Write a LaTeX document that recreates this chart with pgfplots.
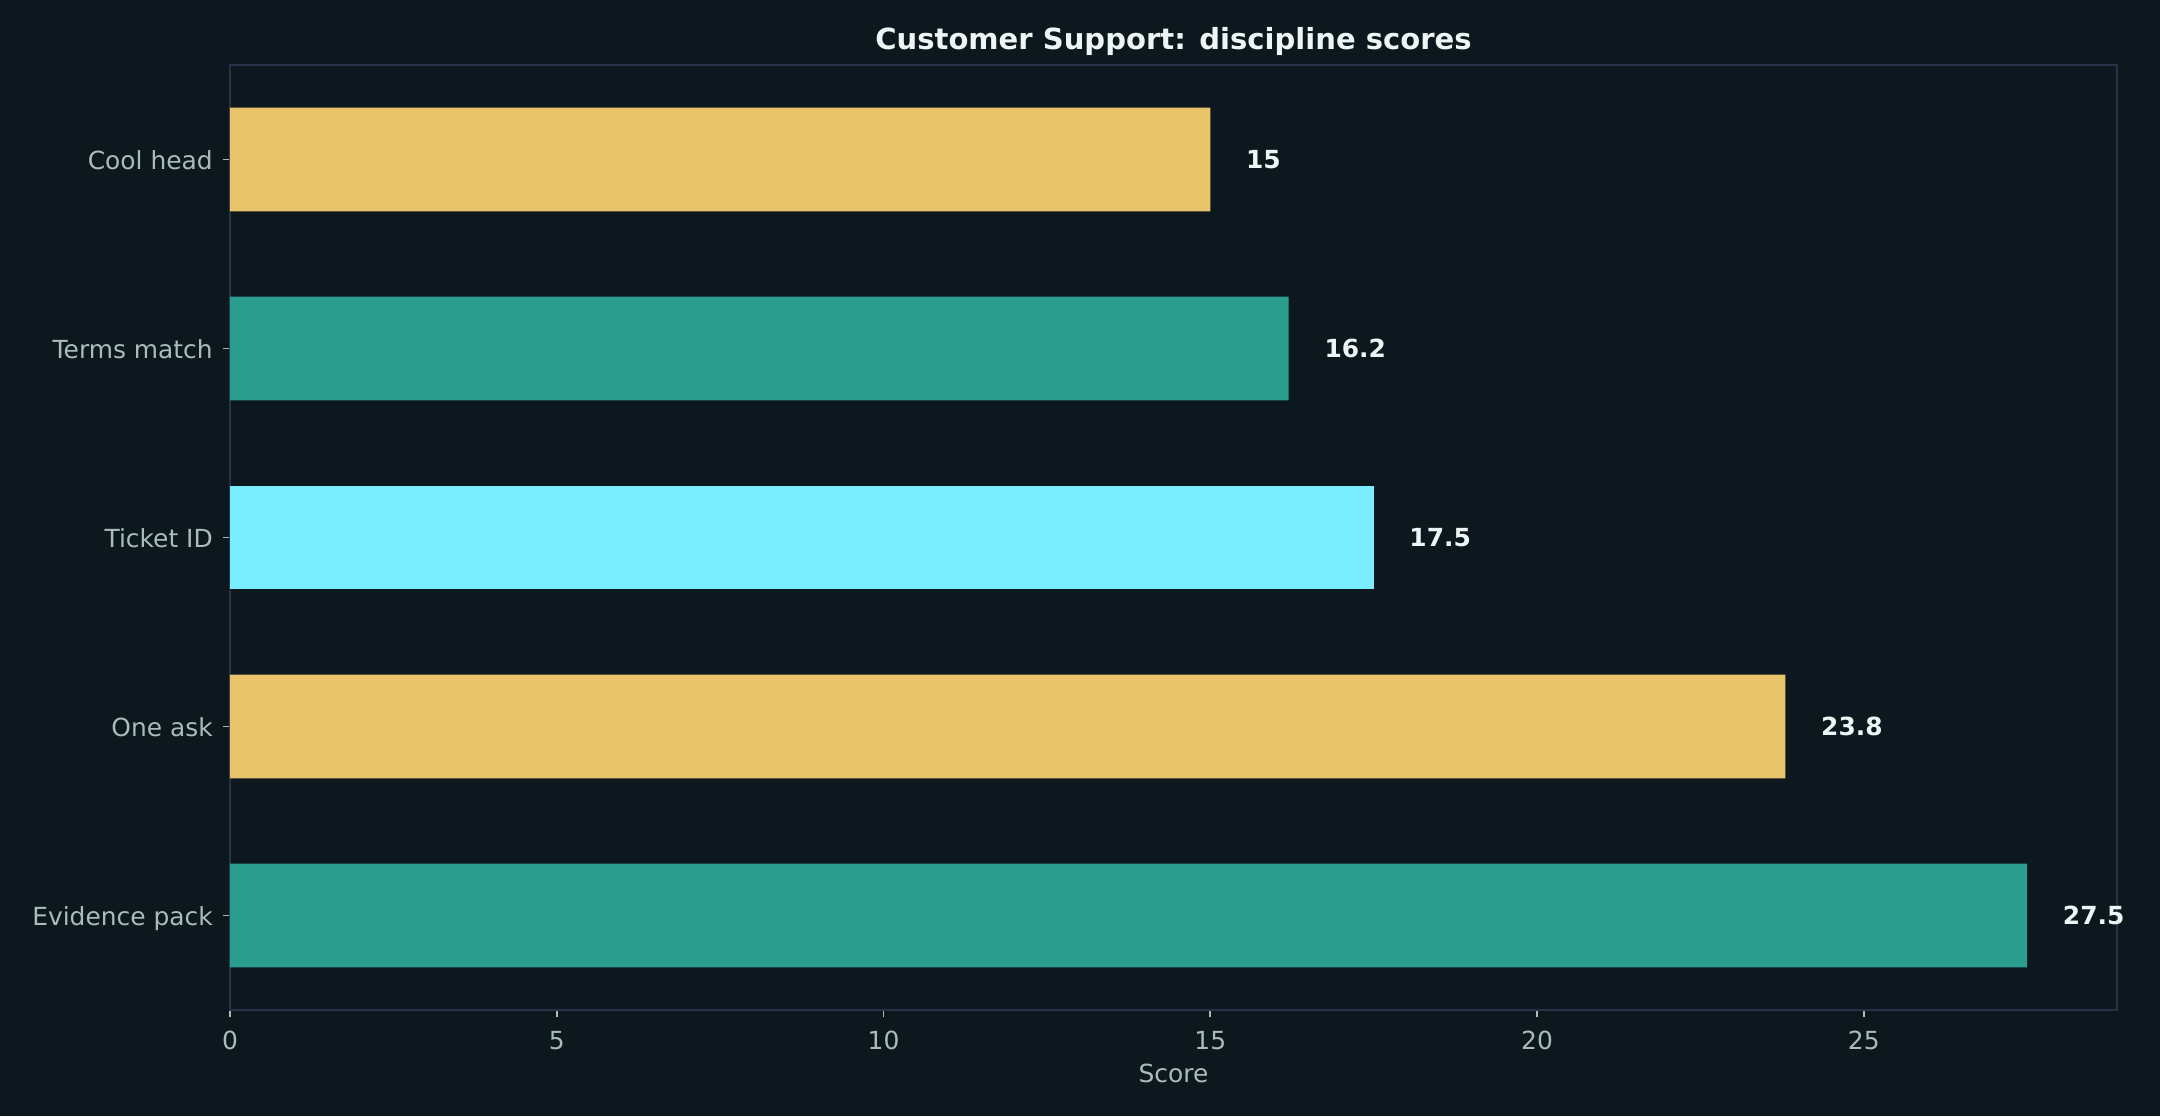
\documentclass[border=0pt]{standalone}
\usepackage{pgfplots}
\pgfplotsset{compat=1.18}
\usepackage{fontspec}
\setmainfont{DejaVu Sans}
\usetikzlibrary{backgrounds}

\definecolor{bg}{HTML}{0C181D}
\definecolor{frame}{HTML}{2A3048}
\definecolor{ticktext}{HTML}{A9BCBC}
\definecolor{titletext}{HTML}{EEF5F5}
\definecolor{gold}{HTML}{E9C46A}
\definecolor{teal}{HTML}{2A9D8F}
\definecolor{aqua}{HTML}{7AEEFF}

\begin{document}
\begin{tikzpicture}
\begin{axis}[
    scale only axis,
    width=905.76bp, height=453.6bp,
    xbar, bar shift=0pt, bar width=0.55,
    xmin=0, xmax=28.875,
    ymin=-0.5, ymax=4.5,
    xtick={0,5,10,15,20,25},
    ytick={0,1,2,3,4},
    yticklabels={Evidence pack, One ask, Ticket ID, Terms match, Cool head},
    axis line style={frame, line width=0.8pt},
    tick style={ticktext, line width=0.8pt},
    major tick length=3.5pt,
    tick align=outside,
    xtick pos=bottom, ytick pos=left,
    /pgf/number format/assume math mode=true,
    tick label style={font=\fontsize{12}{14}\selectfont, text=ticktext},
    xticklabel style={anchor=base, inner sep=0pt, yshift=-15.7bp},
    yticklabel style={anchor=mid east, inner sep=0pt, xshift=-4.6bp, yshift=-2bp},
    every axis title shift=0pt,
    title={Customer Support: discipline scores},
    title style={at={(0.5,1)}, anchor=base, inner sep=0pt, yshift=7.4bp,
        font=\bfseries\fontsize{14}{16}\selectfont, text=titletext},
    xlabel={Score},
    xlabel style={at={(0.5,0)}, anchor=base, inner sep=0pt, yshift=-34.8bp,
        font=\fontsize{12}{14}\selectfont, text=ticktext},
    nodes near coords,
    nodes near coords style={font=\bfseries\fontsize{12}{14}\selectfont,
        text=titletext, anchor=west, inner sep=0pt, xshift=17bp},
]
\addplot[fill=gold, draw=none] coordinates {(15,4) (23.8,1)};
\addplot[fill=teal, draw=none] coordinates {(16.2,3) (27.5,0)};
\addplot[fill=aqua, draw=none] coordinates {(17.5,2)};
\end{axis}
\begin{scope}[on background layer]
\fill[bg] ([shift={(-110.4bp,-50.88bp)}]current axis.south west)
    rectangle ([shift={(20.64bp,31.2bp)}]current axis.north east);
\end{scope}
\pgfresetboundingbox
\path[use as bounding box] ([shift={(-110.4bp,-50.88bp)}]current axis.south west)
    rectangle ([shift={(20.64bp,31.2bp)}]current axis.north east);
\end{tikzpicture}
\end{document}
